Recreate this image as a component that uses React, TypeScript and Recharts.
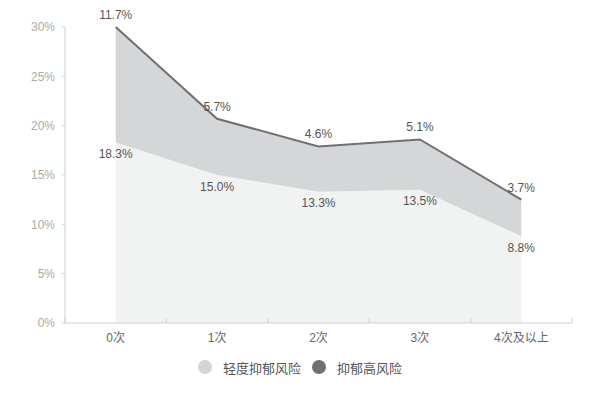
import React from 'react';
import { AreaChart, Area, XAxis, YAxis, LabelList, Legend } from 'recharts';

const categories = ['0次', '1次', '2次', '3次', '4次及以上'];
const mildRisk = [18.3, 15.0, 13.3, 13.5, 8.8];
const highRisk = [11.7, 5.7, 4.6, 5.1, 3.7];
const yTicks = [0, 5, 10, 15, 20, 25, 30];
// category centres (integers) and band boundaries (halves)
const xTicks = [-0.5, 0, 0.5, 1, 1.5, 2, 2.5, 3, 3.5, 4, 4.5];
const seriesNames = ['轻度抑郁风险', '抑郁高风险'];
const legendColors = ['#d5d5d6', '#6f7073'];

const data = categories.map((name, i) => ({
  i,
  name,
  mild: mildRisk[i],
  high: highRisk[i],
}));

const FONT = "'Liberation Sans', Arial, 'Noto Sans CJK SC', sans-serif";

const pct = (v: any) => `${Number(v).toFixed(1)}%`;

const XTick = (props: any) => {
  const { x, y, payload } = props;
  const v = payload.value;
  if (Number.isInteger(v)) {
    return (
      <text
        x={x}
        y={y + 15}
        dy="0.35em"
        textAnchor="middle"
        fill="#666"
        fontSize={12}
        fontFamily={FONT}
      >
        {categories[v]}
      </text>
    );
  }
  return <line x1={x} x2={x} y1={y} y2={y - 5} stroke="#cfcfcf" strokeWidth={1} />;
};

const LegendContent = () => (
  <div
    style={{
      display: 'flex',
      justifyContent: 'center',
      alignItems: 'center',
      width: 600,
      height: 20,
      fontSize: 13,
      color: '#555',
      fontFamily: FONT,
    }}
  >
    {seriesNames.map((n, idx) => (
      <div
        key={n}
        style={{ display: 'flex', alignItems: 'center', marginLeft: idx === 0 ? 0 : 11 }}
      >
        <svg width={14} height={14} style={{ display: 'block' }}>
          <circle cx={7} cy={7} r={7} fill={legendColors[idx]} />
        </svg>
        <span style={{ marginLeft: 11 }}>{n}</span>
      </div>
    ))}
  </div>
);

export default function App() {
  return (
    <div style={{ position: 'absolute', left: 0, top: 0, background: '#fff' }}>
      <AreaChart
        width={600}
        height={412}
        data={data}
        margin={{ top: 27, right: 28, left: 0, bottom: 35 }}
      >
        <XAxis
          dataKey="i"
          type="number"
          domain={[-0.5, 4.5]}
          ticks={xTicks}
          interval={0}
          height={34}
          tickLine={false}
          tickSize={0}
          tickMargin={0}
          axisLine={{ stroke: '#cfcfcf' }}
          tick={<XTick />}
        />
        <YAxis
          type="number"
          domain={[0, 30]}
          ticks={yTicks}
          interval={0}
          width={65}
          tickSize={3}
          tickMargin={7}
          tickFormatter={(v: number) => `${v}%`}
          axisLine={{ stroke: '#cfcfcf' }}
          tickLine={{ stroke: '#cfcfcf' }}
          tick={{ fill: '#aaa', fontSize: 12, fontFamily: FONT }}
        />
        <Legend
          verticalAlign="bottom"
          align="left"
          wrapperStyle={{ left: 0, width: 600 }}
          content={<LegendContent />}
        />
        <Area
          type="linear"
          dataKey="mild"
          name={seriesNames[0]}
          stackId="s"
          fill="#f1f2f2"
          fillOpacity={1}
          stroke="none"
          isAnimationActive={false}
        >
          <LabelList
            dataKey="mild"
            position="bottom"
            offset={7}
            formatter={pct}
            fill="#555"
            fontSize={12}
            fontFamily={FONT}
          />
        </Area>
        <Area
          type="linear"
          dataKey="high"
          name={seriesNames[1]}
          stackId="s"
          fill="#d5d6d8"
          fillOpacity={1}
          stroke="#6f7073"
          strokeWidth={2}
          isAnimationActive={false}
        >
          <LabelList
            dataKey="high"
            position="top"
            offset={8}
            formatter={pct}
            fill="#555"
            fontSize={12}
            fontFamily={FONT}
          />
        </Area>
      </AreaChart>
    </div>
  );
}
